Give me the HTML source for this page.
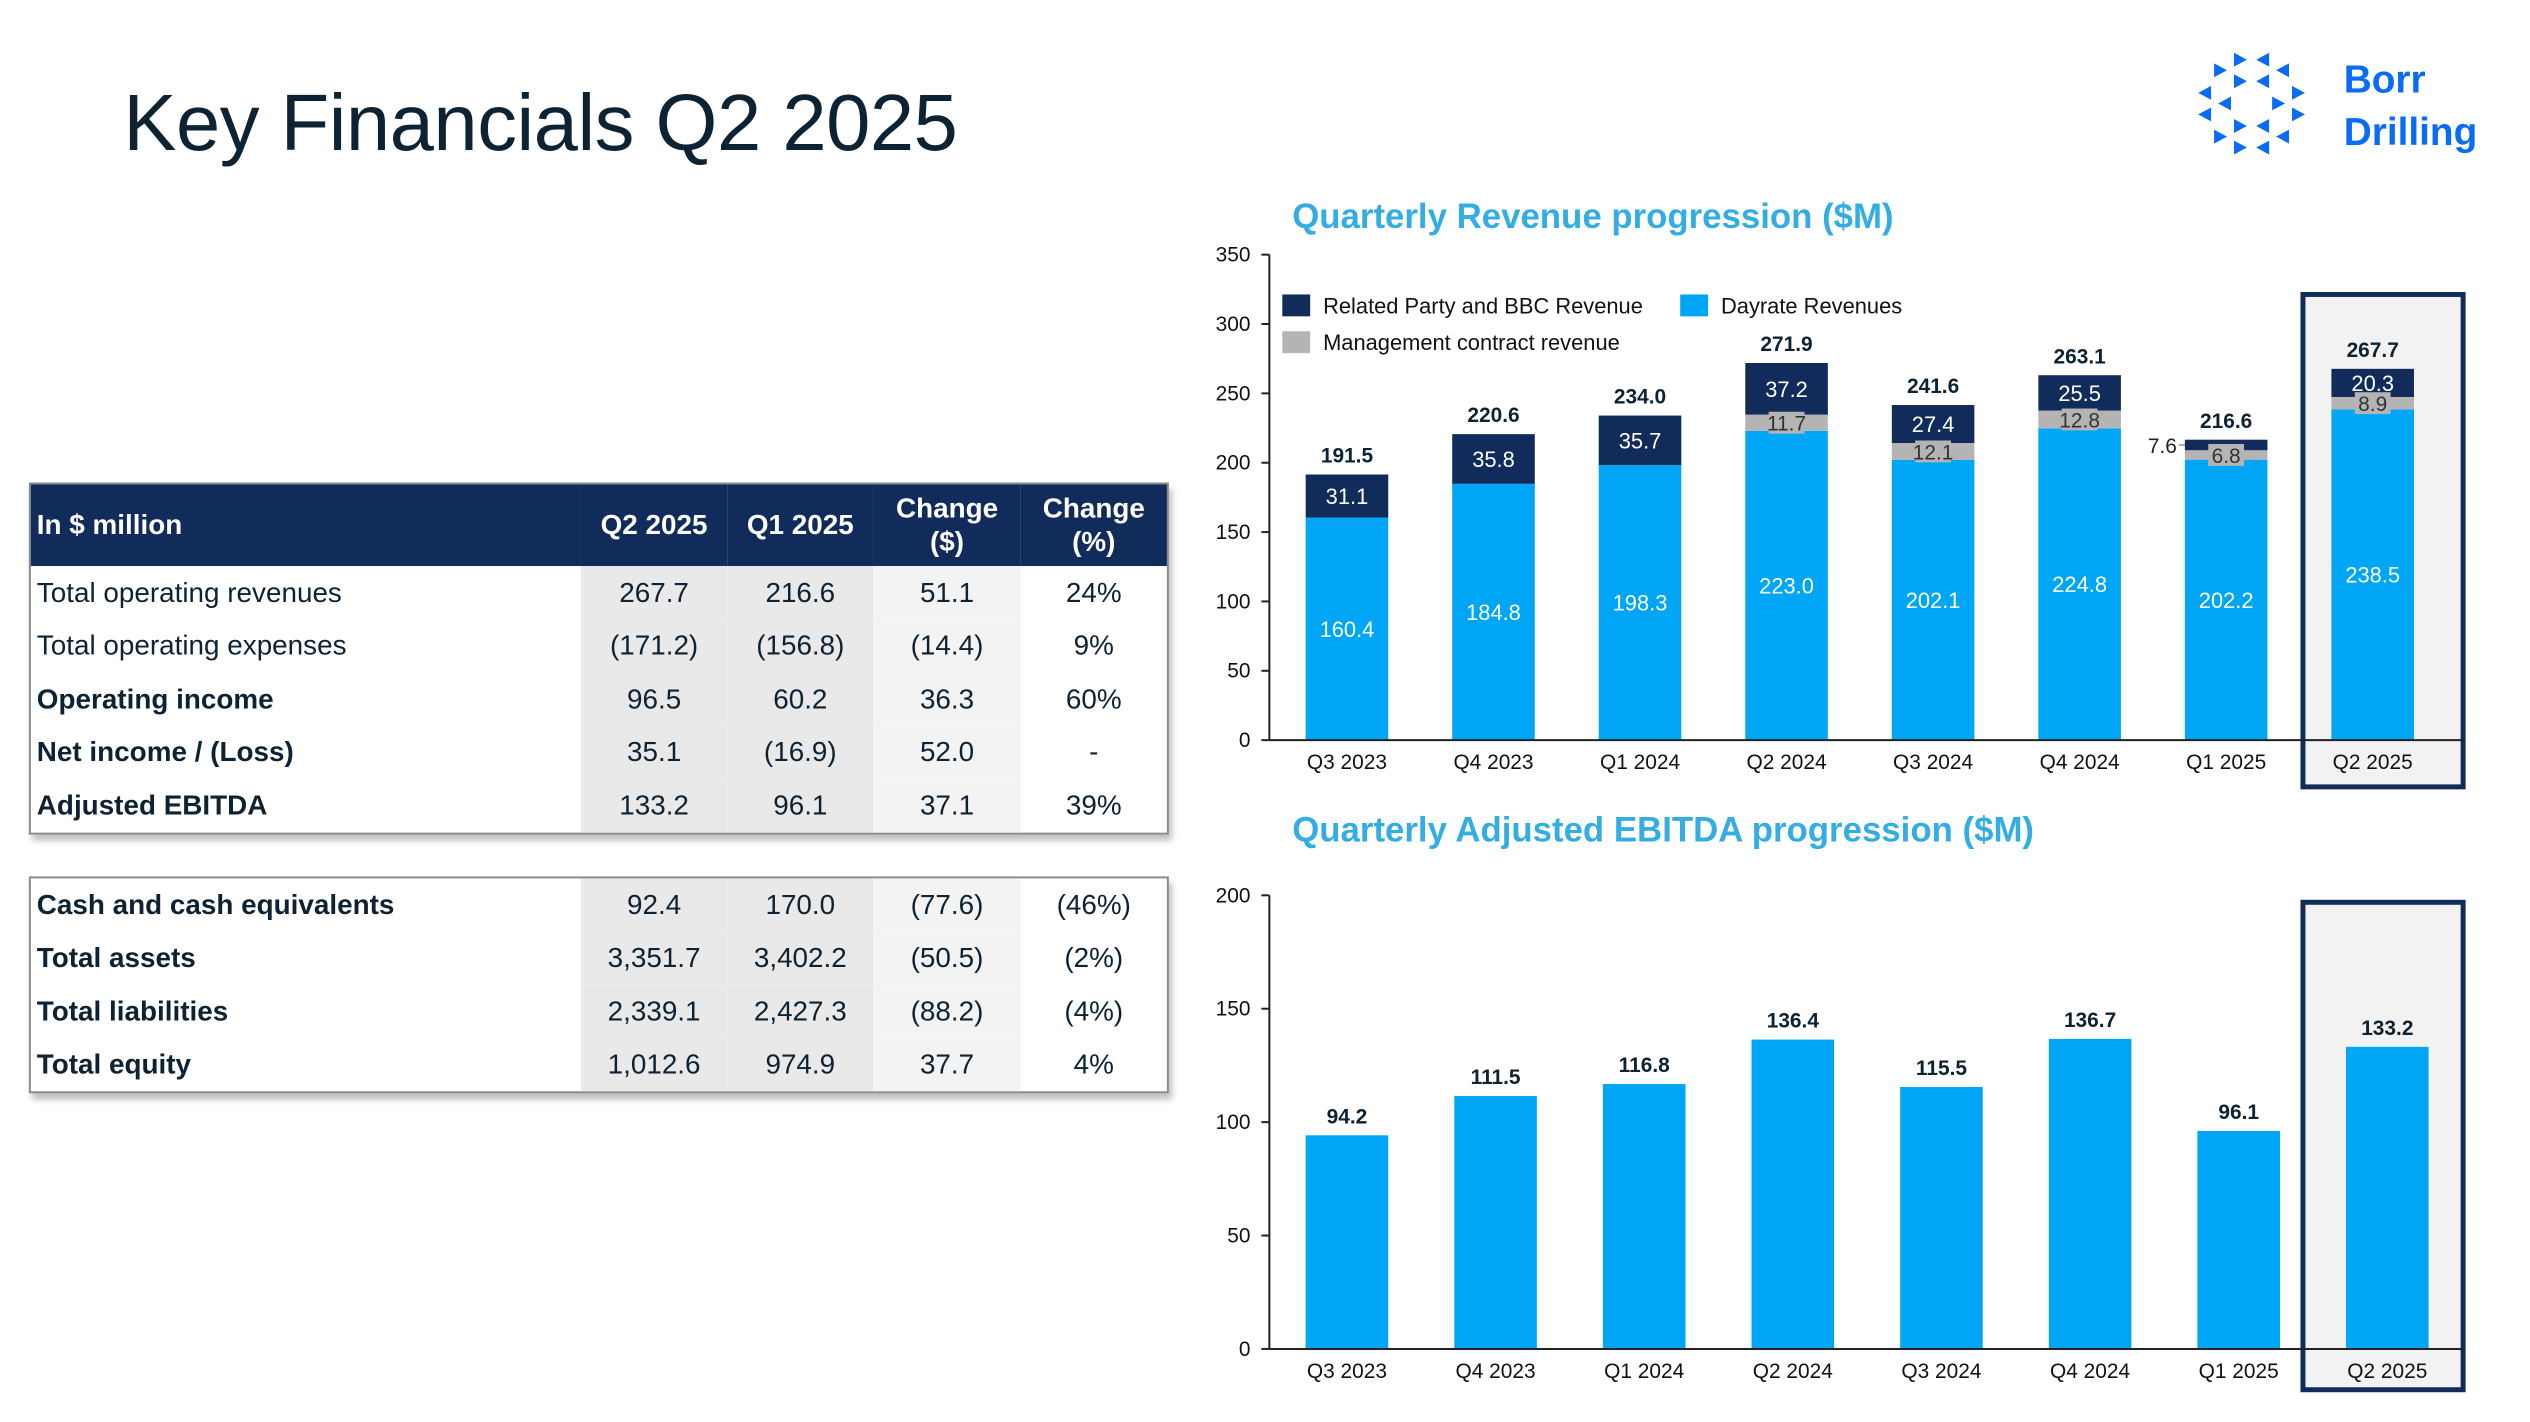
<!DOCTYPE html>
<html><head><meta charset="utf-8">
<style>
html,body{margin:0;padding:0;background:#fff;}
body{width:2530px;height:1422px;position:relative;overflow:hidden;font-family:"Liberation Sans",sans-serif;color:#0d2233;}
#wrap{position:absolute;left:0;top:0;width:2530px;height:1422px;transform:scale(0.9948);transform-origin:0 0;}
.title{position:absolute;left:124px;top:78px;font-size:80px;color:#0d2233;letter-spacing:-0.5px;}
.tbl{position:absolute;left:29px;width:1142px;border:2px solid #8a8a8a;box-shadow:3px 6px 6px rgba(0,0,0,0.25);background:#fff;}
table{border-collapse:collapse;width:100%;table-layout:fixed;font-size:28px;}
td,th{padding:0;text-align:center;}
td:first-child,th:first-child{text-align:left;padding-left:6px;}
th{background:#112b5b;color:#fff;font-weight:bold;height:82px;line-height:34px;}
td{height:53.5px;}
.c1,.c2{background:#e9e9e9;}
.c3{background:#f3f3f3;}
.b{font-weight:bold;}
svg text{font-family:"Liberation Sans",sans-serif;}
</style></head><body>
<div id="wrap">
<div class="title">Key Financials Q2 2025</div>

<svg style="position:absolute;left:0;top:0" width="2530" height="200">
<g id="logo" fill="#0a6cf5"></g>
<text x="2356" y="93" font-size="39" font-weight="bold" fill="#0a6cf5">Borr</text>
<text x="2356" y="146" font-size="39" font-weight="bold" fill="#0a6cf5">Drilling</text>
</svg>

<div class="tbl" style="top:485px">
<table>
<colgroup><col style="width:553px"><col style="width:147px"><col style="width:147px"><col style="width:148px"><col style="width:147px"></colgroup>
<tr><th>In $ million</th><th>Q2 2025</th><th>Q1 2025</th><th>Change<br>($)</th><th>Change<br>(%)</th></tr>
<tr><td>Total operating revenues</td><td class="c1">267.7</td><td class="c2">216.6</td><td class="c3">51.1</td><td>24%</td></tr>
<tr><td>Total operating expenses</td><td class="c1">(171.2)</td><td class="c2">(156.8)</td><td class="c3">(14.4)</td><td>9%</td></tr>
<tr><td class="b">Operating income</td><td class="c1">96.5</td><td class="c2">60.2</td><td class="c3">36.3</td><td>60%</td></tr>
<tr><td class="b">Net income / (Loss)</td><td class="c1">35.1</td><td class="c2">(16.9)</td><td class="c3">52.0</td><td>-</td></tr>
<tr><td class="b">Adjusted EBITDA</td><td class="c1">133.2</td><td class="c2">96.1</td><td class="c3">37.1</td><td>39%</td></tr>
</table></div>

<div class="tbl" style="top:881px">
<table>
<colgroup><col style="width:553px"><col style="width:147px"><col style="width:147px"><col style="width:148px"><col style="width:147px"></colgroup>
<tr><td class="b">Cash and cash equivalents</td><td class="c1">92.4</td><td class="c2">170.0</td><td class="c3">(77.6)</td><td>(46%)</td></tr>
<tr><td class="b">Total assets</td><td class="c1">3,351.7</td><td class="c2">3,402.2</td><td class="c3">(50.5)</td><td>(2%)</td></tr>
<tr><td class="b">Total liabilities</td><td class="c1">2,339.1</td><td class="c2">2,427.3</td><td class="c3">(88.2)</td><td>(4%)</td></tr>
<tr><td class="b">Total equity</td><td class="c1">1,012.6</td><td class="c2">974.9</td><td class="c3">37.7</td><td>4%</td></tr>
</table></div>

<svg id="charts" style="position:absolute;left:0;top:0" width="2530" height="1422"></svg>
</div>

<script>
const categories = ["Q3 2023","Q4 2023","Q1 2024","Q2 2024","Q3 2024","Q4 2024","Q1 2025","Q2 2025"];
const dayrate = [160.4,184.8,198.3,223.0,202.1,224.8,202.2,238.5];
const mgmt = [0,0,0,11.7,12.1,12.8,6.8,8.9];
const related = [31.1,35.8,35.7,37.2,27.4,25.5,7.6,20.3];
const totals = [191.5,220.6,234.0,271.9,241.6,263.1,216.6,267.7];
const revTicks = [0,50,100,150,200,250,300,350];
const ebitda = [94.2,111.5,116.8,136.4,115.5,136.7,96.1,133.2];
const ebitdaTicks = [0,50,100,150,200];

const NS="http://www.w3.org/2000/svg";
const svg=document.getElementById('charts');
function mk(tag,attrs,parent,txt){const e=document.createElementNS(NS,tag);for(const k in attrs)e.setAttribute(k,attrs[k]);if(txt!==undefined)e.textContent=txt;(parent||svg).appendChild(e);return e;}

const logo=document.getElementById('logo');
const tri=[[155,90,1],[225,90,-1],[95,122,1],[285,122,-1],[50,190,-1],[330,190,1],[50,255,-1],[330,255,1],[95,322,1],[285,322,-1],[155,355,1],[225,355,-1],[155,155,1],[225,155,-1],[110,222,-1],[270,222,1],[155,290,1],[225,290,-1]];
tri.forEach(t=>{const cx=2200+t[0]/3,cy=30+t[1]/3,d=t[2];
 const p=mk('polygon',{points:`${cx-6*d},${cy-7} ${cx+7*d},${cy} ${cx-6*d},${cy+7}`},logo);
 
 });

const BLUE="#00a6f6",NAVY="#112b5b",GREY="#b4b4b4";

function chartFrame(o){
 const hb=mk('rect',{x:2315,y:o.hy,width:161,height:o.hh,fill:'#f2f2f2',stroke:NAVY,'stroke-width':5});
 
 
 const t=mk('text',{x:1299,y:o.titleY,'font-size':35,'font-weight':'bold',fill:'#34ade2'},svg,o.title);
 
 
 const ax=mk('line',{x1:1276,y1:o.y(o.ticks[o.ticks.length-1]),x2:1276,y2:o.y(0),stroke:'#222','stroke-width':2});
 
 
 o.ticks.forEach(v=>{
  const tl=mk('line',{x1:1268,x2:1276,y1:o.y(v),y2:o.y(v),stroke:'#222','stroke-width':2});
  
  
  const tx=mk('text',{x:1257,y:o.y(v)+7,'font-size':21,'text-anchor':'end',fill:'#111'},svg,String(v));
  
  
 });
 categories.forEach((c,i)=>{
  const tx=mk('text',{x:o.x(i),y:o.catY,'font-size':21,'text-anchor':'middle',fill:'#111'},svg,c);
  
  
 });
}
function lbl(x,y,s,fill,bold,size){return mk('text',{x:x,y:y,'font-size':size||21,'text-anchor':'middle',fill:fill,'font-weight':bold?'bold':'normal'},svg,s);}

const ry=v=>744-v*(744-256)/350;
const rx=i=>1354+i*147.3;
const BW=83;
chartFrame({y:ry,x:rx,ticks:revTicks,hy:296,hh:495,title:'Quarterly Revenue progression ($M)',titleY:229,catY:773});
categories.forEach((c,i)=>{
 const x=rx(i)-BW/2;
 const d=mk('rect',{x:x,y:ry(dayrate[i]),width:BW,height:ry(0)-ry(dayrate[i]),fill:BLUE});
 
 
 const m0=dayrate[i],m1=dayrate[i]+mgmt[i];
 if(mgmt[i]>0){
  const m=mk('rect',{x:x,y:ry(m1),width:BW,height:ry(m0)-ry(m1),fill:GREY});
  
  
 }
 const r1=m1+related[i];
 const r=mk('rect',{x:x,y:ry(r1),width:BW,height:ry(m1)-ry(r1),fill:NAVY});
 
 
 let t=lbl(rx(i),ry(dayrate[i]/2)+8,dayrate[i].toFixed(1),'#fff',false,22);
 
 
 if(mgmt[i]>0){
  const bg=mk('rect',{x:rx(i)-18,y:ry((m0+m1)/2)-11,width:36,height:22,fill:GREY});
  
  
  t=lbl(rx(i),ry((m0+m1)/2)+8,mgmt[i].toFixed(1),'#333',false,21);
  
  
 }
 if(related[i]>12){
  t=lbl(rx(i),ry((m1+r1)/2)+8,related[i].toFixed(1),'#fff',false,22);
 } else {
  const ll=mk('line',{x1:x-6,x2:x,y1:ry((m1+r1)/2),y2:ry((m1+r1)/2),stroke:'#555'});
  
  
  t=mk('text',{x:x-8,y:ry((m1+r1)/2)+8,'font-size':21,'text-anchor':'end',fill:'#222'},svg,related[i].toFixed(1));
 }
 
 
 t=lbl(rx(i),ry(totals[i])-12,totals[i].toFixed(1),'#0d2233',true,21);
 
 
});
const rxa=mk('line',{x1:1276,x2:2477,y1:ry(0),y2:ry(0),stroke:'#222','stroke-width':2});


[[1289,296,NAVY,'Related Party and BBC Revenue'],[1689,296,BLUE,'Dayrate Revenues'],[1289,333,GREY,'Management contract revenue']].forEach(l=>{
 const s=mk('rect',{x:l[0],y:l[1],width:28,height:22,fill:l[2]});
 
 
 const t=mk('text',{x:l[0]+41,y:l[1]+19,'font-size':22,fill:'#111'},svg,l[3]);
 
 
});

const ey=v=>1356-v*(1356-900)/200;
const ex=i=>1354+i*149.4;
chartFrame({y:ey,x:ex,ticks:ebitdaTicks,hy:907,hh:490,title:'Quarterly Adjusted EBITDA progression ($M)',titleY:846,catY:1385});
ebitda.forEach((v,i)=>{
 const b=mk('rect',{x:ex(i)-BW/2,y:ey(v),width:BW,height:ey(0)-ey(v),fill:BLUE});
 
 
 const t=lbl(ex(i),ey(v)-12,v.toFixed(1),'#0d2233',true,21);
 
 
});
const exa=mk('line',{x1:1276,x2:2477,y1:ey(0),y2:ey(0),stroke:'#222','stroke-width':2});


</script>
</body></html>
